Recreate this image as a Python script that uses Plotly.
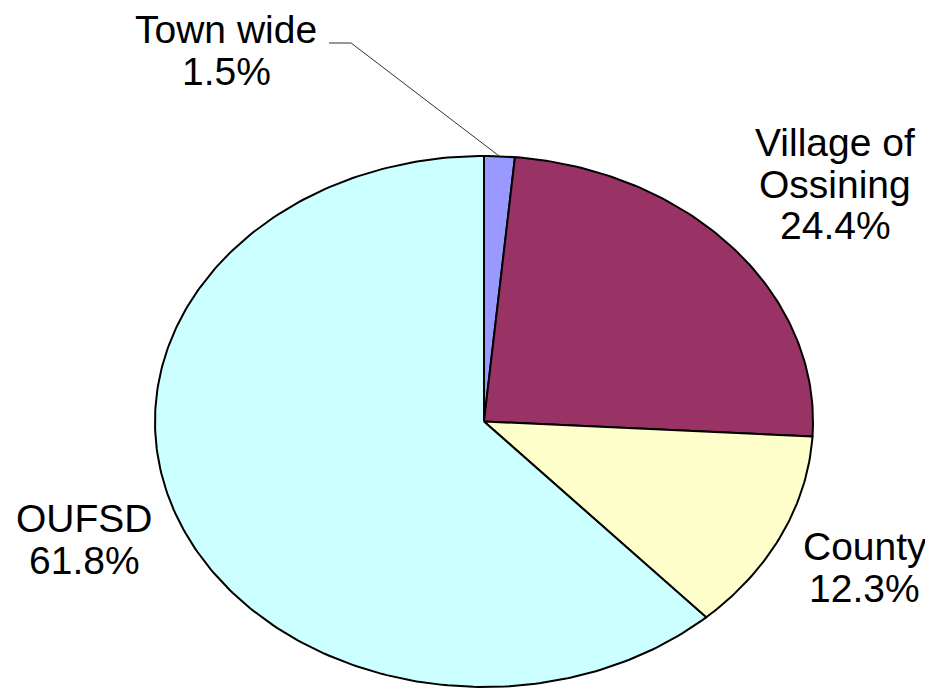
import numpy as np
import plotly.graph_objects as go

# Slice data, clockwise from 12 o'clock
labels = ["Town wide", "Village of<br>Ossining", "County", "OUFSD"]
shares = [1.5, 24.4, 12.3, 61.8]
colors = ["#9999FF", "#993366", "#FFFFCC", "#CCFFFF"]

# label block centres (unit-circle data space)
label_x = [-0.784, 1.067, 1.158, -1.213]
label_y = [1.398, 0.8945, -0.550, -0.446]
line_gap = 0.158  # between text lines

fig = go.Figure()

total = sum(shares)
start = 0.0
mids = []
for name, val, col in zip(labels, shares, colors):
    a0 = start / total * 2 * np.pi
    a1 = (start + val) / total * 2 * np.pi
    t = np.linspace(a0, a1, max(int(val * 4), 8))
    xs = np.concatenate([[0], np.sin(t), [0]])
    ys = np.concatenate([[0], np.cos(t), [0]])
    fig.add_trace(go.Scatter(x=xs, y=ys, mode="lines", fill="toself",
                             fillcolor=col, line=dict(color="black", width=2),
                             hoverinfo="text", text=name.replace("<br>", " "),
                             showlegend=False))
    mids.append((a0 + a1) / 2)
    start += val

# leader line for the small slice
m = mids[0]
fig.add_trace(go.Scatter(x=[-0.471, -0.404, np.sin(m)], y=[1.4256, 1.4256, np.cos(m)],
                         mode="lines", line=dict(color="#333333", width=1),
                         hoverinfo="skip", showlegend=False))

# one annotation per text line so the spacing can be kept tight
for name, val, x, y in zip(labels, shares, label_x, label_y):
    lines = name.split("<br>") + [f"{val}%"]
    n = len(lines)
    for i, txt in enumerate(lines):
        fig.add_annotation(x=x, y=y + ((n - 1) / 2 - i) * line_gap, text=txt,
                           showarrow=False,
                           font=dict(family="Liberation Sans, Arial", size=39, color="black"),
                           xanchor="center", yanchor="middle")

# page has an 8px body margin, so the plot area starts at (8, 8)
cx, cy, rx, ry = 476, 413.5, 329, 265.5
fig.update_xaxes(range=[-cx / rx, (933 - cx) / rx], visible=False)
fig.update_yaxes(range=[-(689 - cy) / ry, cy / ry], visible=False)
fig.update_layout(width=933, height=689, margin=dict(l=0, r=0, t=0, b=0),
                  plot_bgcolor="white", paper_bgcolor="white")

fig.write_html("out.html")
